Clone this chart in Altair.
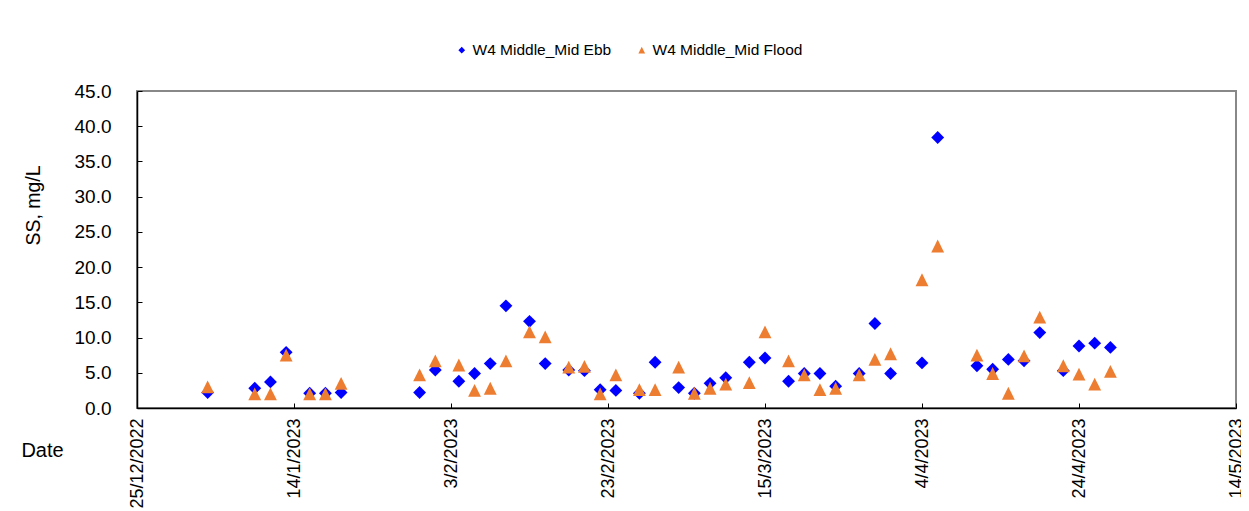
import altair as alt
import pandas as pd

dates = [
    "2023-01-03", "2023-01-09", "2023-01-11", "2023-01-13", "2023-01-16", "2023-01-18",
    "2023-01-20", "2023-01-30", "2023-02-01", "2023-02-04", "2023-02-06", "2023-02-08",
    "2023-02-10", "2023-02-13", "2023-02-15", "2023-02-18", "2023-02-20", "2023-02-22",
    "2023-02-24", "2023-02-27", "2023-03-01", "2023-03-04", "2023-03-06", "2023-03-08",
    "2023-03-10", "2023-03-13", "2023-03-15", "2023-03-18", "2023-03-20", "2023-03-22",
    "2023-03-24", "2023-03-27", "2023-03-29", "2023-03-31", "2023-04-04", "2023-04-06",
    "2023-04-11", "2023-04-13", "2023-04-15", "2023-04-17", "2023-04-19", "2023-04-22",
    "2023-04-24", "2023-04-26", "2023-04-28",
]
ebb = [
    2.2, 2.8, 3.7, 7.9, 2.1, 2.1,
    2.2, 2.2, 5.4, 3.8, 4.9, 6.3,
    14.5, 12.3, 6.3, 5.4, 5.3, 2.6,
    2.5, 2.1, 6.5, 2.9, 2.1, 3.5,
    4.3, 6.5, 7.1, 3.8, 4.9, 4.9,
    3.1, 4.9, 12.0, 4.9, 6.4, 38.4,
    6.0, 5.5, 6.9, 6.7, 10.7, 5.3,
    8.8, 9.2, 8.6,
]
flood = [
    3.0, 2.0, 2.0, 7.5, 2.0, 2.0,
    3.5, 4.7, 6.7, 6.1, 2.5, 2.8,
    6.7, 10.8, 10.1, 5.8, 5.9, 2.0,
    4.7, 2.6, 2.6, 5.8, 2.1, 2.8,
    3.4, 3.6, 10.8, 6.7, 4.7, 2.6,
    2.8, 4.7, 6.9, 7.7, 18.2, 23.0,
    7.5, 4.9, 2.1, 7.4, 12.9, 6.0,
    4.8, 3.4, 5.2,
]
series_names = ["W4 Middle_Mid Ebb", "W4 Middle_Mid Flood"]
series_colors = ["#0000FF", "#ED7D31"]
series_shapes = ["diamond", "M0,-1L1,1L-1,1Z"]
y_ticks = [0, 5, 10, 15, 20, 25, 30, 35, 40, 45]
x_ticks = [(2022, 12, 25), (2023, 1, 14), (2023, 2, 3), (2023, 2, 23),
           (2023, 3, 15), (2023, 4, 4), (2023, 4, 24), (2023, 5, 14)]
title_text = "Station W4 (Middle) - Suspended Solids"

df = pd.concat([
    pd.DataFrame({"date": dates, "value": ebb, "series": series_names[0]}),
    pd.DataFrame({"date": dates, "value": flood, "series": series_names[1]}),
], ignore_index=True)


def dt(t):
    return alt.DateTime(year=t[0], month=t[1], date=t[2], utc=True)


FONT = "Liberation Sans"
x_scale = alt.Scale(type="utc", domain=[dt(x_ticks[0]), dt(x_ticks[-1])], nice=False)
y_scale = alt.Scale(domain=[0, 45], nice=False, zero=True)

legend_kw = dict(
    title=None,
    orient="none",
    direction="horizontal",
    legendX=317,
    legendY=-49,
    labelFontSize=15.5,
    labelColor="#000000",
    symbolSize=45,
    symbolStrokeWidth=0,
    labelOffset=3,
    columnPadding=22,
)

points = alt.Chart(df).mark_point(filled=True, opacity=1, size=165, strokeWidth=0).encode(
    x=alt.X(
        "date:T",
        scale=x_scale,
        axis=alt.Axis(
            title="Date",
            orient="bottom",
            values=[dt(t) for t in x_ticks],
            format="%-d/%-m/%Y",
            labelAngle=270,
            labelFontSize=18,
            labelPadding=10,
            ticks=False,
            domainColor="#000000",
            domainWidth=1.5,
            grid=False,
            titleAngle=0,
            titleX=-95,
            titleY=42,
            titleAlign="center",
            titleBaseline="middle",
            titleFontSize=20,
            titleFontWeight="normal",
            labelOverlap=False,
        ),
    ),
    y=alt.Y(
        "value:Q",
        scale=y_scale,
        axis=alt.Axis(
            title="SS, mg/L",
            orient="left",
            values=y_ticks,
            format=".1f",
            labelFontSize=19,
            labelPadding=26,
            ticks=False,
            domainColor="#000000",
            domainWidth=1.5,
            grid=False,
            titleAngle=270,
            titleX=-104,
            titleY=114,
            titleAlign="center",
            titleBaseline="middle",
            titleFontSize=19.5,
            titleFontWeight="normal",
            labelOverlap=False,
        ),
    ),
    color=alt.Color(
        "series:N",
        scale=alt.Scale(domain=series_names, range=series_colors),
        legend=alt.Legend(**legend_kw),
    ),
    shape=alt.Shape(
        "series:N",
        scale=alt.Scale(domain=series_names, range=series_shapes),
        legend=alt.Legend(**legend_kw),
    ),
    order=alt.Order("series:N", sort="ascending"),
)

# inward tick marks (an extra axis pair pushed 5px inside the plot area)
ticks_layer = alt.Chart(df).mark_point(opacity=0).encode(
    x=alt.X(
        "date:T",
        scale=x_scale,
        axis=alt.Axis(
            title=None,
            orient="bottom",
            offset=-5,
            values=[dt(t) for t in x_ticks],
            labels=False,
            domain=False,
            grid=False,
            tickSize=5,
            tickColor="#000000",
            tickWidth=1,
        ),
    ),
    y=alt.Y(
        "value:Q",
        scale=y_scale,
        axis=alt.Axis(
            title=None,
            orient="left",
            offset=-5,
            values=y_ticks,
            labels=False,
            domain=False,
            grid=False,
            tickSize=5,
            tickColor="#000000",
            tickWidth=1,
        ),
    ),
)

chart = alt.layer(points, ticks_layer).resolve_axis(
    x="independent", y="independent"
).properties(
    width=1099,
    height=317,
    autosize=alt.AutoSizeParams(type="none"),
    padding={"left": 129, "top": 83, "right": 5, "bottom": 103},
    title=alt.TitleParams(
        text=title_text,
        anchor="start",
        frame="group",
        dx=-122,
        offset=86,
        baseline="bottom",
        fontSize=18,
        fontWeight="bold",
        color="#000000",
    ),
).configure(
    font=FONT,
).configure_axis(
    labelColor="#000000",
    titleColor="#000000",
    labelFont=FONT,
    titleFont=FONT,
).configure_legend(
    labelFont=FONT,
).configure_view(
    stroke="#888888",
    strokeWidth=2,
)

chart.save("out.html", embed_options={"renderer": "svg", "actions": False})
